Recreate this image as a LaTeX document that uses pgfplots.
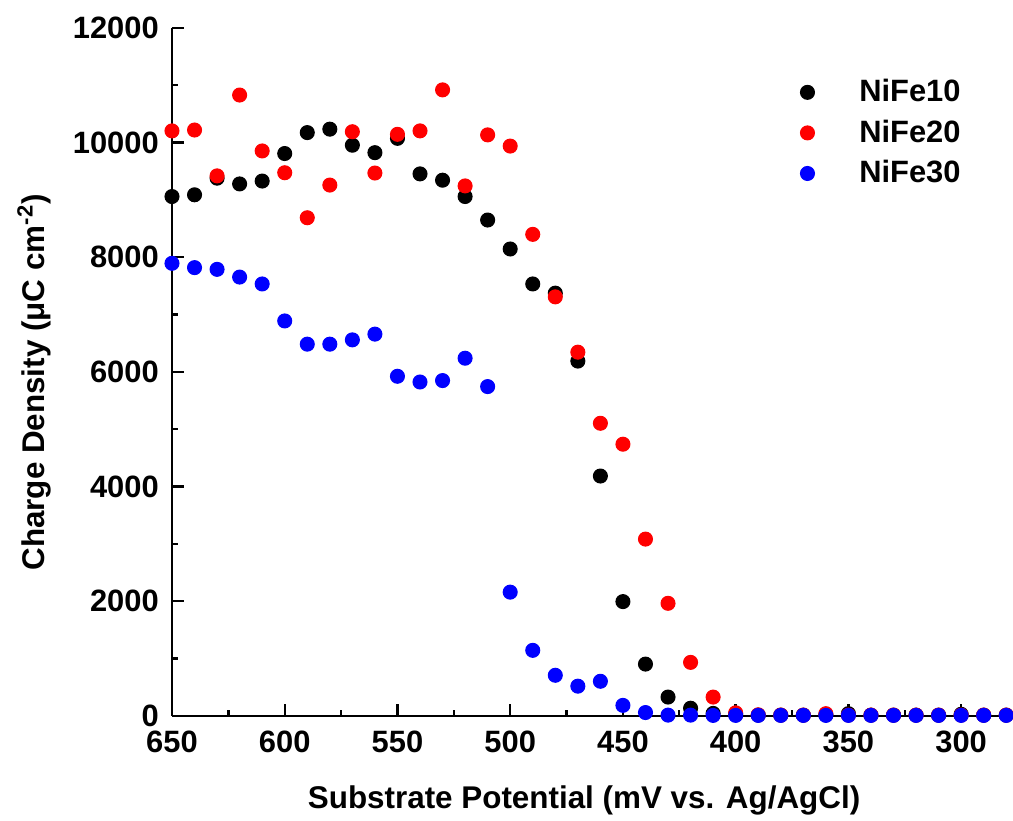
\documentclass[border=0pt]{standalone}
\usepackage{fontspec}
\setmainfont{Liberation Sans}
\usepackage{pgfplots}
\pgfplotsset{compat=1.18}

\begin{document}
\begin{tikzpicture}
\begin{axis}[
  name=ax,
  scale only axis,
  width=318.8pt, height=260.8pt,
  x dir=reverse,
  xmin=277, xmax=650,
  ymin=0, ymax=12000,
  axis x line*=bottom, axis y line*=left,
  axis line style={line width=1pt,-},
  xtick={650,600,...,300},
  ytick={0,2000,...,12000},
  scaled y ticks=false,
  minor x tick num=1, minor y tick num=1,
  tick align=inside,
  major tick length=4.5pt, minor tick length=2.3pt,
  every tick/.style={black, line width=0.9pt},
  /pgf/number format/assume math mode=true,
  /pgf/number format/1000 sep={},
  tick label style={font=\fontsize{11.7}{14}\selectfont\bfseries},
  xticklabel style={yshift=-2pt},
  yticklabel style={xshift=-1.5pt},
  xlabel={Substrate Potential (mV vs. Ag/AgCl)},
  ylabel={Charge Density (μC cm\textsuperscript{-2})},
  label style={font=\fontsize{11.9}{14}\selectfont\bfseries},
  xlabel style={at={(axis description cs:0.49,-0.1235)}, anchor=center},
  ylabel style={at={(axis description cs:-0.164,0.485)}, anchor=center},
  clip=false,
  legend style={draw=none, fill=none, at={(axis cs:375,11300)}, anchor=north west,
    font=\fontsize{11.7}{14}\selectfont\bfseries, row sep=1.4pt,
    /tikz/every odd column/.append style={column sep=15pt}},
  legend cell align=left,
]
\addplot[only marks, mark=*, mark size=2.65pt, color=black] coordinates {
(650,9060) (640,9090) (630,9380) (620,9280) (610,9330) (600,9810) (590,10175) (580,10235)
(570,9955) (560,9825) (550,10075) (540,9455) (530,9345) (520,9060) (510,8650) (500,8145)
(490,7535) (480,7375) (470,6190) (460,4185) (450,1995) (440,905) (430,330) (420,135)
(410,45) (400,30) (390,15) (380,15) (370,15) (360,20) (350,40) (340,15) (330,15)
(320,15) (310,15) (300,30) (290,15) (280,15)
};
\addlegendentry{NiFe10}
\addplot[only marks, mark=*, mark size=2.65pt, color=red] coordinates {
(650,10205) (640,10220) (630,9420) (620,10830) (610,9855) (600,9475) (590,8690) (580,9260)
(570,10190) (560,9470) (550,10145) (540,10205) (530,10920) (520,9245) (510,10135) (500,9940)
(490,8400) (480,7310) (470,6345) (460,5105) (450,4740) (440,3085) (430,1965) (420,935)
(410,330) (400,55) (390,20) (380,15) (370,15) (360,40) (350,15) (340,15) (330,15)
(320,15) (310,15) (300,15) (290,15) (280,15)
};
\addlegendentry{NiFe20}
\addplot[only marks, mark=*, mark size=2.65pt, color=blue] coordinates {
(650,7895) (640,7820) (630,7790) (620,7655) (610,7535) (600,6890) (590,6485) (580,6485)
(570,6560) (560,6660) (550,5925) (540,5825) (530,5850) (520,6240) (510,5745) (500,2160)
(490,1145) (480,710) (470,520) (460,605) (450,185) (440,60) (430,15) (420,15)
(410,10) (400,10) (390,10) (380,10) (370,10) (360,10) (350,10) (340,10) (330,10)
(320,10) (310,10) (300,10) (290,10) (280,10)
};
\addlegendentry{NiFe30}
\end{axis}
\path (ax.south west) ++(-65.2pt,-39.8pt) coordinate (bl);
\path (ax.north east) ++(0pt,10.6pt) coordinate (tr);
\pgfresetboundingbox
\path (bl) rectangle (tr);
\end{tikzpicture}
\end{document}
